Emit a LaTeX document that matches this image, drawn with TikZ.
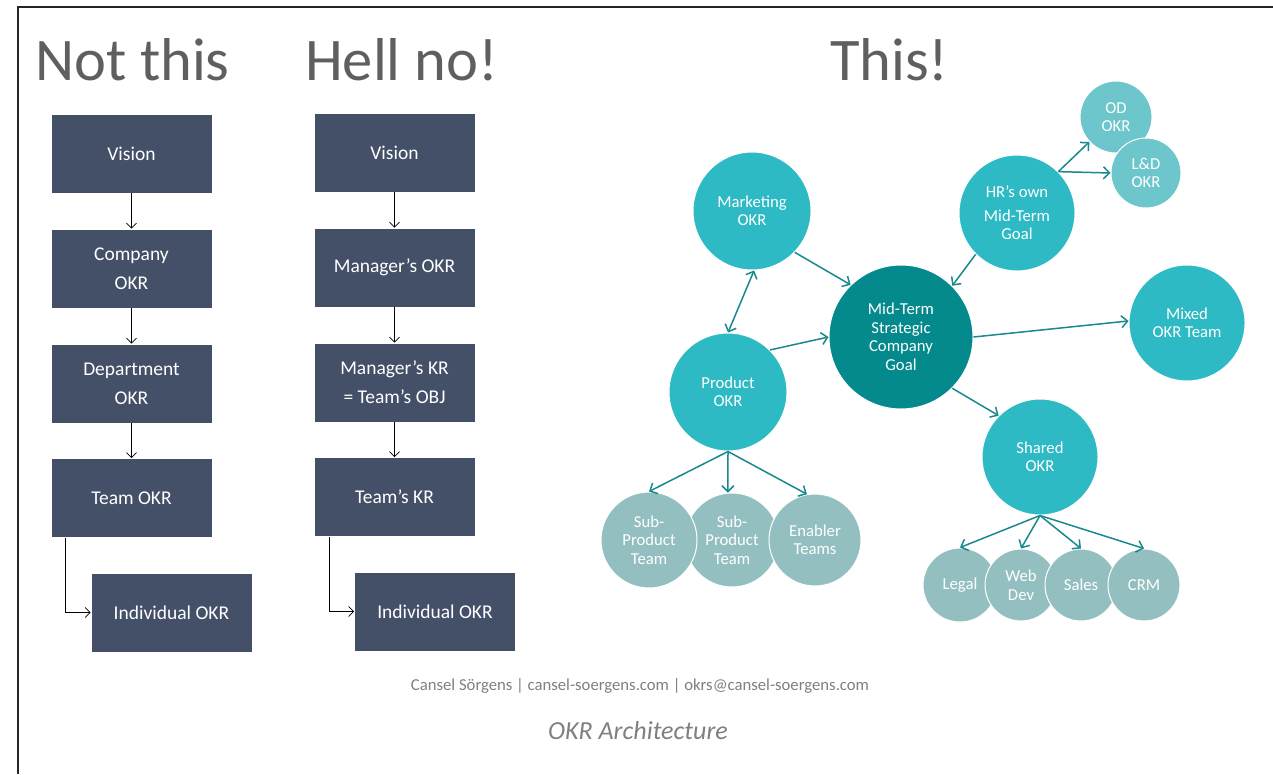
\documentclass[tikz,border=0pt]{standalone}
\usepackage{fontspec}
\setmainfont{Carlito}
\usetikzlibrary{arrows.meta}
\definecolor{boxblue}{RGB}{68,80,104}
\definecolor{tealmain}{RGB}{46,186,196}
\definecolor{tealdark}{RGB}{4,137,140}
\definecolor{teallight}{RGB}{109,198,204}
\definecolor{tealgray}{RGB}{148,191,193}
\definecolor{tealarrow}{RGB}{24,137,142}
\definecolor{titlegray}{RGB}{95,95,95}
\definecolor{footgray}{RGB}{128,128,128}
\tikzset{
  titletext/.style={anchor=base west, inner sep=0pt, text=titlegray, font=\fontsize{60.5}{70}\selectfont},
  okrbox/.style={rectangle, fill=boxblue, draw=white, line width=0.6pt, minimum width=161pt, minimum height=79pt, inner sep=0pt, text=white, align=center, font=\fontsize{19.5}{29}\selectfont},
  blackarrow/.style={draw=black, line width=0.8pt, -{Straight Barb[length=5pt,width=10pt]}},
  bubble/.style={circle, draw=white, line width=1pt, inner sep=0pt, text=white, align=center, font=\fontsize{16.7}{18.5}\selectfont},
  tealarr/.style={draw=tealarrow, line width=1.5pt, -{Straight Barb[length=6pt,width=12pt]}},
  tealarrboth/.style={draw=tealarrow, line width=1.5pt, {Straight Barb[length=6pt,width=12pt]}-{Straight Barb[length=6pt,width=12pt]}},
}
\begin{document}
\begin{tikzpicture}[x=1pt,y=-1pt]
\useasboundingbox (0,0) rectangle (1273,774);
\fill[white] (0,0) rectangle (1273,774);
% frame
\coordinate (frameTL) at (18,7);
\coordinate (frameTR) at (1273,7);
\coordinate (frameBL) at (18,774);
\draw[line width=2pt, black!85] (frameTR) -- (frameTL) -- (frameBL);

% titles
\node[titletext] (t1) at (35,80) {Not this};
\node[titletext] (t2) at (305,80) {Hell no!};
\node[titletext] (t3) at (830,80) {This!};

% column 1
\node[okrbox] (a1) at (131.5,153.5) {Vision};
\node[okrbox] (a2) at (131.5,268.5) {Company\\OKR};
\node[okrbox] (a3) at (131.5,383.5) {Department\\OKR};
\node[okrbox] (a4) at (131.5,498) {Team OKR};
\node[okrbox] (a5) at (171.5,612.5) {Individual OKR};
\draw[blackarrow] (a1.south) -- (a2.north);
\draw[blackarrow] (a2.south) -- (a3.north);
\draw[blackarrow] (a3.south) -- (a4.north);
\draw[blackarrow] ([xshift=15pt]a4.south west) |- (a5.west);

% column 2
\node[okrbox] (b1) at (394.5,152.5) {Vision};
\node[okrbox] (b2) at (394.5,267.5) {Manager’s OKR};
\node[okrbox] (b3) at (394.5,382.5) {Manager’s KR\\= Team’s OBJ};
\node[okrbox] (b4) at (394.5,497) {Team’s KR};
\node[okrbox] (b5) at (435,611.5) {Individual OKR};
\draw[blackarrow] (b1.south) -- (b2.north);
\draw[blackarrow] (b2.south) -- (b3.north);
\draw[blackarrow] (b3.south) -- (b4.north);
\draw[blackarrow] ([xshift=16pt]b4.south west) |- (b5.west);

% network
\node[bubble, fill=tealmain, minimum size=118pt] (mkt) at (752,211) {Marketing\\OKR};
\node[bubble, fill=tealmain, minimum size=118pt] (prod) at (728,392) {Product\\OKR};
\node[bubble, fill=tealdark, minimum size=144pt] (mid) at (901,337) {Mid-Term\\Strategic\\Company\\Goal};
\node[bubble, fill=tealmain, minimum size=116pt] (hr) at (1017,213) {HR’s own\\[5pt]Mid-Term\\Goal};
\node[bubble, fill=teallight, minimum size=72pt] (od) at (1116,117) {OD\\OKR};
\node[bubble, fill=teallight, minimum size=70pt] (ld) at (1146,173) {L\&D\\OKR};
\node[bubble, fill=tealmain, minimum size=116pt] (mix) at (1187,323) {Mixed\\OKR Team};
\node[bubble, fill=tealmain, minimum size=116pt] (sh) at (1040,457) {Shared\\OKR};

\node[bubble, fill=tealgray, minimum size=94pt] (sub2) at (732,540) {Sub-\\Product\\Team};
\node[bubble, fill=tealgray, minimum size=96pt] (sub1) at (649,540) {Sub-\\Product\\Team};
\node[bubble, fill=tealgray, minimum size=92pt] (en) at (815,540) {Enabler\\Teams};

\node[bubble, fill=tealgray, minimum size=74pt] (legal) at (960,585) {Legal};
\node[bubble, fill=tealgray, minimum size=72pt] (web) at (1021,585) {Web\\Dev};
\node[bubble, fill=tealgray, minimum size=72pt] (sales) at (1081,585) {Sales};
\node[bubble, fill=tealgray, minimum size=72pt] (crm) at (1144,585) {CRM};

\draw[tealarr] (mkt.-44) -- (mid.134);
\draw[tealarrboth] (mkt.-88) -- (prod.90);
\draw[tealarr] (prod.45) -- (mid.180);
\draw[tealarr] (hr.-135) -- (mid.45);
\draw[tealarr] (hr.45) -- (od.-137);
\draw[tealarr] (hr.45) -- (ld.west);
\draw[tealarr] (mid.east) -- (mix.178);
\draw[tealarr] (mid.-45) -- (sh.135);
\draw[tealarr] (prod.south) -- (sub1.north);
\draw[tealarr] (prod.south) -- (sub2.95);
\draw[tealarr] (prod.south) -- (en.100);
\draw[tealarr] (sh.south) -- (legal.north);
\draw[tealarr] (sh.south) -- (web.north);
\draw[tealarr] (sh.south) -- (sales.north);
\draw[tealarr] (sh.south) -- (crm.north);

% footer
\node[text=footgray, font=\fontsize{16.7}{20}\selectfont] (foot) at (640,686) {Cansel Sörgens | cansel-soergens.com | okrs@cansel-soergens.com};
\node[text=footgray, font=\fontsize{26}{30}\selectfont\itshape] (cap) at (638,731) {OKR Architecture};
\end{tikzpicture}
\end{document}
